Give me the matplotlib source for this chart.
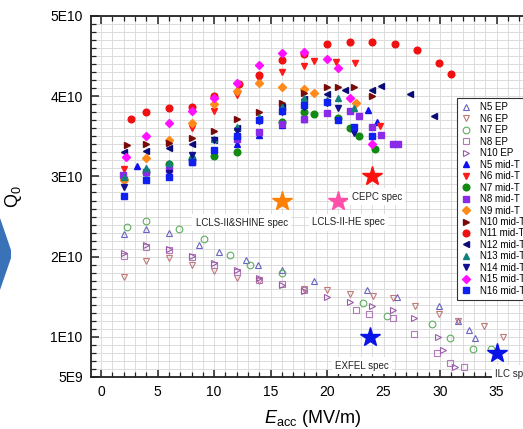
import numpy as np
import matplotlib
matplotlib.use("Agg")
import matplotlib.pyplot as plt
from matplotlib.patches import Polygon
from matplotlib.ticker import MultipleLocator, FixedLocator

plt.rcParams['font.family'] = ['Liberation Sans', 'DejaVu Sans']
plt.rcParams['mathtext.fontset'] = 'custom'
plt.rcParams['mathtext.rm'] = 'Liberation Sans'
plt.rcParams['mathtext.it'] = 'Liberation Sans:italic'

# ---- EP baseline cavities (open markers), Q0 in units of 1E10 ----
n5_ep_x = [2, 4, 6, 8.7, 10.4, 12.8, 13.9, 16, 18.8, 23.5, 26.2, 29.9, 31.6, 32.6, 33.1]
n5_ep_y = [2.28, 2.35, 2.30, 2.15, 2.06, 1.96, 1.89, 1.83, 1.70, 1.59, 1.50, 1.38, 1.20, 1.08, 0.99]
n6_ep_x = [2, 4, 6, 8, 10, 12, 14, 18, 20, 22, 24.1, 25.8, 27.8, 29.9, 31.6, 33.9, 35.6]
n6_ep_y = [1.75, 1.94, 1.98, 1.90, 1.82, 1.73, 1.70, 1.60, 1.58, 1.53, 1.51, 1.49, 1.38, 1.28, 1.20, 1.14, 1.00]
n7_ep_x = [2.3, 4, 6.9, 9.1, 11.4, 13.2, 16, 23.2, 25.3, 29.3, 30.9, 32.9, 34.5]
n7_ep_y = [2.37, 2.45, 2.35, 2.22, 2.02, 1.89, 1.80, 1.42, 1.26, 1.16, 0.98, 0.85, 0.85]
n8_ep_x = [2, 4, 6, 8, 10, 12, 14, 16, 18, 22.6, 23.7, 25.8, 27.7, 29.7, 30.9, 32.1]
n8_ep_y = [2.01, 2.12, 2.08, 1.99, 1.90, 1.81, 1.71, 1.66, 1.58, 1.33, 1.28, 1.23, 1.03, 0.80, 0.68, 0.63]
n10_ep_x = [2, 4, 6, 8, 10, 12, 14, 16, 18, 20, 22, 24, 25.8, 27.7, 29.8, 30.3, 31.3]
n10_ep_y = [2.04, 2.14, 2.10, 2.01, 1.92, 1.83, 1.73, 1.65, 1.57, 1.50, 1.44, 1.39, 1.33, 1.24, 1.00, 0.84, 0.63]

# ---- mid-T baked cavities (filled markers) ----
n5_mt_x = [3.2, 12, 14, 16, 18, 23.6, 24.4]
n5_mt_y = [3.13, 3.40, 3.52, 3.64, 3.71, 3.83, 3.68]
n6_mt_x = [2, 8, 10, 12, 14, 16, 18, 18.8, 20.8, 22.5, 24.7]
n6_mt_y = [3.09, 3.60, 3.81, 4.02, 4.21, 4.30, 4.38, 4.44, 4.43, 4.41, 3.63]
n7_mt_x = [2, 4, 6, 8, 10, 12, 16, 18, 18.8, 21, 22, 22.8, 24.2]
n7_mt_y = [2.97, 3.05, 3.15, 3.22, 3.25, 3.31, 3.68, 3.80, 3.78, 3.73, 3.61, 3.51, 3.34]
n8_mt_x = [1.9, 4, 6, 8, 12, 14, 16, 18, 20, 22, 22.8, 24, 24.8, 25.8, 26.3]
n8_mt_y = [3.02, 3.05, 3.09, 3.18, 3.47, 3.55, 3.65, 3.72, 3.79, 3.82, 3.75, 3.62, 3.52, 3.40, 3.40]
n9_mt_x = [2, 4, 6, 8, 10, 12, 14, 16, 18, 18.8, 22.6]
n9_mt_y = [2.96, 3.23, 3.46, 3.67, 3.90, 4.06, 4.16, 4.12, 4.09, 4.04, 3.91]
n10_mt_x = [2.3, 4, 6, 8, 10, 12, 14, 16, 18, 20, 21, 22.4, 24]
n10_mt_y = [3.39, 3.41, 3.42, 3.48, 3.57, 3.71, 3.80, 3.92, 4.04, 4.12, 4.12, 4.12, 4.00]
n11_mt_x = [2.6, 4, 6, 8, 10, 12.2, 14, 16, 18, 20, 22, 24, 26, 28, 29.9, 31]
n11_mt_y = [3.71, 3.80, 3.85, 3.87, 4.00, 4.15, 4.27, 4.45, 4.53, 4.65, 4.67, 4.68, 4.65, 4.58, 4.42, 4.28]
n12_mt_x = [2, 4, 6, 8, 10, 12, 14, 16, 18, 20, 21.6, 24, 24.8, 27.3, 29.5]
n12_mt_y = [3.30, 3.32, 3.35, 3.40, 3.46, 3.60, 3.71, 3.86, 3.96, 4.03, 4.08, 4.08, 4.13, 4.03, 3.75]
n13_mt_x = [2, 4, 6, 8, 10, 12, 14, 16, 18, 20, 21, 22.4]
n13_mt_y = [2.99, 3.10, 3.17, 3.27, 3.47, 3.62, 3.74, 3.87, 3.98, 3.95, 3.98, 3.85]
n14_mt_x = [2, 4, 6, 8, 10, 12, 14, 16, 18, 20, 21, 22.4]
n14_mt_y = [2.87, 2.95, 3.04, 3.27, 3.46, 3.57, 3.69, 3.80, 3.87, 3.92, 3.85, 3.54]
n15_mt_x = [2.2, 4, 6, 8, 10, 12, 14, 16, 18, 20, 21, 22, 24]
n15_mt_y = [3.24, 3.50, 3.67, 3.82, 3.98, 4.16, 4.39, 4.54, 4.55, 4.47, 4.35, 3.98, 3.41]
n16_mt_x = [2, 4, 6, 8, 10, 12, 14, 16, 18, 20, 21, 22.4, 24]
n16_mt_y = [2.75, 2.95, 2.99, 3.18, 3.33, 3.51, 3.70, 3.82, 3.89, 3.93, 3.70, 3.62, 3.50]

# ---- machine specs ----
spec_names = ['LCLS-II&SHINE spec', 'LCLS-II-HE spec', 'CEPC spec', 'EXFEL spec', 'ILC spec']
spec_x = [16, 21, 24, 23.8, 35]
spec_y = [2.7, 2.7, 3.0, 1.0, 0.8]
spec_colors = ['#ff8000', '#ff4fa8', '#ff1010', '#0a14e6', '#0a14e6']
spec_label_xy = [(12.45, 2.42), (21.9, 2.43), (24.4, 2.75), (23.1, 0.64), (34.9, 0.54)]
spec_label_ha = ['center', 'center', 'center', 'center', 'left']

series = [
    ('N5 EP', n5_ep_x, n5_ep_y, '^', '#6a64c4', False),
    ('N6 EP', n6_ep_x, n6_ep_y, 'v', '#c07a7a', False),
    ('N7 EP', n7_ep_x, n7_ep_y, 'o', '#5fae5f', False),
    ('N8 EP', n8_ep_x, n8_ep_y, 's', '#b07ab8', False),
    ('N10 EP', n10_ep_x, n10_ep_y, '>', '#9a5aaa', False),
    ('N5 mid-T', n5_mt_x, n5_mt_y, '^', '#1010f0', True),
    ('N6 mid-T', n6_mt_x, n6_mt_y, 'v', '#ff1a1a', True),
    ('N7 mid-T', n7_mt_x, n7_mt_y, 'o', '#118a11', True),
    ('N8 mid-T', n8_mt_x, n8_mt_y, 's', '#8a2be8', True),
    ('N9 mid-T', n9_mt_x, n9_mt_y, 'D', '#ff8a1a', True),
    ('N10 mid-T', n10_mt_x, n10_mt_y, '>', '#7a0a0a', True),
    ('N11 mid-T', n11_mt_x, n11_mt_y, 'o', '#f01010', True),
    ('N12 mid-T', n12_mt_x, n12_mt_y, '<', '#0a0a78', True),
    ('N13 mid-T', n13_mt_x, n13_mt_y, '^', '#12807a', True),
    ('N14 mid-T', n14_mt_x, n14_mt_y, 'v', '#101090', True),
    ('N15 mid-T', n15_mt_x, n15_mt_y, 'D', '#ff10ff', True),
    ('N16 mid-T', n16_mt_x, n16_mt_y, 's', '#1020f0', True),
]

fig = plt.figure(figsize=(5.23, 4.29), dpi=100)
W, H = 523, 429
# axes extends past the right edge, like the cropped original
ax = fig.add_axes([91 / W, 1 - 377 / H, 462 / W, 361 / H])

for name, xs, ys, mk, col, filled in series:
    ms = 4.2 if mk == 'D' else 4.8
    if filled:
        ax.plot(xs, np.array(ys) * 1e10, ls='none', marker=mk, ms=ms, color=col,
                mec=col, label=name, zorder=3)
    else:
        ax.plot(xs, np.array(ys) * 1e10, ls='none', marker=mk, ms=ms, mfc='none',
                mec=col, mew=0.8, label=name, zorder=3)

for i in range(len(spec_names)):
    ax.plot(spec_x[i], spec_y[i] * 1e10, ls='none', marker='*', ms=15,
            color=spec_colors[i], zorder=4)
    lx, ly = spec_label_xy[i]
    ax.text(lx, ly * 1e10, spec_names[i], fontsize=7, ha=spec_label_ha[i], va='center',
            color='#222222', zorder=4,
            bbox=dict(facecolor='white', edgecolor='none', pad=2.5))

ax.set_xlim(-0.9, 40)
ax.set_ylim(5e9, 5e10)
ax.xaxis.set_major_locator(MultipleLocator(5))
ax.xaxis.set_minor_locator(MultipleLocator(1))
yt = [5e9, 1e10, 2e10, 3e10, 4e10, 5e10]
ax.yaxis.set_major_locator(FixedLocator(yt))
ax.set_yticklabels(['5E9', '1E10', '2E10', '3E10', '4E10', '5E10'])
ax.yaxis.set_minor_locator(MultipleLocator(1e9))
ax.grid(which='both', color='#dcdcdc', lw=0.7, zorder=0)
ax.set_axisbelow(True)
ax.tick_params(which='both', direction='in', top=True, right=True, labelsize=10,
               color='#222222')
ax.tick_params(which='major', length=6, width=1.1, pad=6)
ax.tick_params(which='minor', length=3.5, width=0.9)
for s in ax.spines.values():
    s.set_linewidth(1.3)
    s.set_color('#222222')

ax.set_xlabel(r'$E_{\rm acc}$ (MV/m)', fontsize=13, labelpad=6)
ax.xaxis.set_label_coords(0.48, -0.085)
ax.set_ylabel('Q$_0$', fontsize=13, labelpad=4)
ax.yaxis.set_label_coords(-0.145, 0.5)

leg = ax.legend(loc='upper left', bbox_to_anchor=((457 - 91) / 462, (377 - 98) / 361),
                fontsize=7, frameon=True, fancybox=False, framealpha=1,
                edgecolor='#333333', labelspacing=0.15, handlelength=1.0,
                handletextpad=0.95, borderpad=0.45, borderaxespad=0)
leg.get_frame().set_linewidth(0.8)

# blue arrow fragment on the left edge
pts = [(0, 218), (11, 250), (11, 258), (0, 290)]
arrow = Polygon([(px / W, 1 - py / H) for px, py in pts], closed=True,
                transform=fig.transFigure, facecolor='#3a72b8', edgecolor='none')
fig.patches.append(arrow)

fig.savefig('out.png', dpi=100)
